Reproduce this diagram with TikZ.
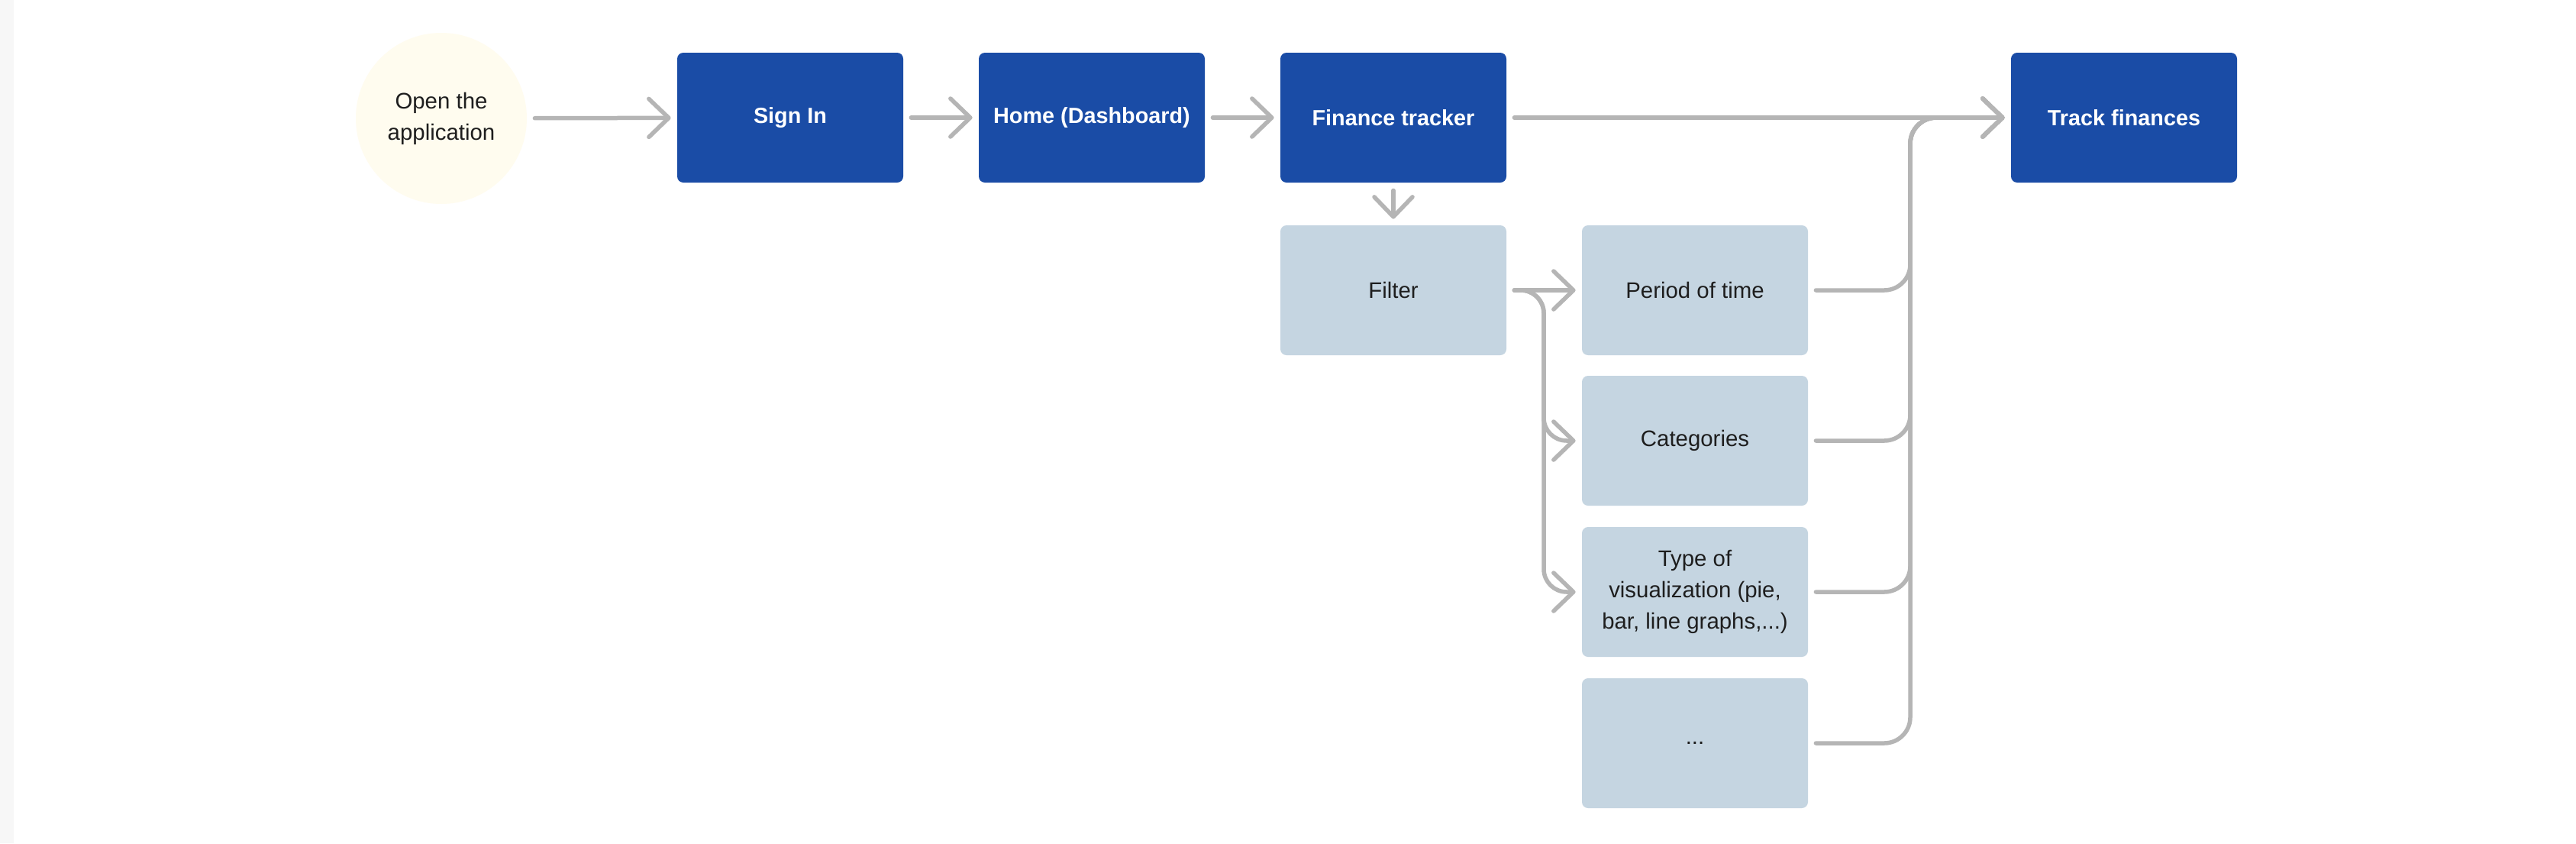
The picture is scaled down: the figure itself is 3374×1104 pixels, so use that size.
\documentclass[tikz,border=0pt]{standalone}
\usepackage{fontspec}
\setmainfont{Liberation Sans}
\usepackage{xcolor}
\usepackage{tikz}
\usetikzlibrary{arrows.meta,positioning}
\definecolor{stepblue}{RGB}{26,76,166}
\definecolor{optionblue}{RGB}{197,213,225}
\definecolor{startcream}{RGB}{255,252,239}
\definecolor{linkgray}{RGB}{181,181,181}
\definecolor{textdark}{RGB}{30,30,30}
\definecolor{edgegray}{RGB}{247,247,247}

\tikzset{
  boxfont/.style={font=\fontsize{14.7}{20.5}\selectfont},
  mainbox/.style={draw=none, fill=stepblue, minimum width=148pt, minimum height=85pt,
                  rounded corners=4pt, inner sep=0pt, align=center, text=white,
                  font=\fontsize{14.4}{20.5}\selectfont\bfseries},
  optionbox/.style={draw=none, fill=optionblue, minimum width=148pt, minimum height=85pt,
                    rounded corners=4pt, inner sep=0pt, align=center, text=textdark, boxfont},
  link/.style={draw=linkgray, line width=2.75pt, line cap=round, line join=round,
               -{Straight Barb[length=13pt,width=25pt,round]}, shorten <=5pt, shorten >=4pt}
}

\begin{document}
\begin{tikzpicture}[x=0.5pt, y=-0.5pt]
            \fill[white] (0,0) rectangle (3374,1104);
            \fill[edgegray] (0,0) rectangle (18,1104);
            \useasboundingbox (0,0) rectangle (3374,1104);

            % main flow
            \node[circle, draw=none, fill=startcream, minimum size=112pt, inner sep=0pt,
                  align=center, text=textdark, boxfont] (open) at (578,155) {Open the\\application};
            \node[mainbox] (signin) at (1035,154) {Sign In};
            \node[mainbox] (home) at (1430,154) {Home (Dashboard)};
            \node[mainbox] (tracker) at (1825,154) {Finance tracker};
            \node[mainbox] (track) at (2782,154) {Track finances};

            % filter options
            \node[optionbox] (filter) at (1825,380) {Filter};
            \node[optionbox] (period) at (2220,380) {Period of time};
            \node[optionbox] (categories) at (2220,577) {Categories};
            \node[optionbox] (vistype) at (2220,775) {Type of\\visualization (pie,\\bar, line graphs,...)};
            \node[optionbox] (more) at (2220,973) {...};

            \coordinate (split) at (2022,380);
            \coordinate (join) at (2502,154);

            \draw[link] (open) -- (signin);
            \draw[link] (signin) -- (home);
            \draw[link] (home) -- (tracker);
            \draw[link] (tracker) -- (track);
            \draw[link] (tracker) -- (filter);
            \draw[link] (filter) -- (period);
            \draw[link, rounded corners=15pt] (filter.east) -- (split) |- (categories.west);
            \draw[link, rounded corners=15pt] (filter.east) -- (split) |- (vistype.west);

            % back to the tracker
            \draw[link, rounded corners=17pt] (period.east) -| (join) -- (track.west);
            \draw[link, rounded corners=17pt] (categories.east) -| (join) -- (track.west);
            \draw[link, rounded corners=17pt] (vistype.east) -| (join) -- (track.west);
            \draw[link, rounded corners=17pt] (more.east) -| (join) -- (track.west);
        \end{tikzpicture}
\end{document}
